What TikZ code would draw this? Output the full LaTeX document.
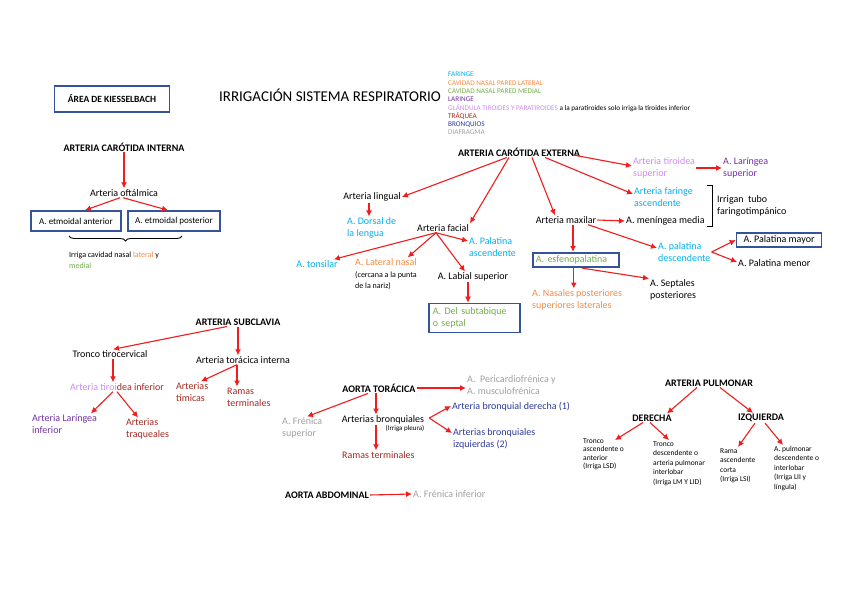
\documentclass[tikz,border=0pt]{standalone}
\usepackage{fontspec}
\setmainfont{Carlito}
\usetikzlibrary{arrows.meta,decorations.pathreplacing}
\definecolor{arrred}{HTML}{F21C1C}
\definecolor{boxblue}{HTML}{34539A}
\definecolor{cyanA}{HTML}{00B0F0}
\definecolor{orangeA}{HTML}{F58A42}
\definecolor{greenA}{HTML}{70AD47}
\definecolor{purpleA}{HTML}{7030A0}
\definecolor{pinkA}{HTML}{D08BF0}
\definecolor{dredA}{HTML}{A3281F}
\definecolor{dblueA}{HTML}{2B3A9A}
\definecolor{grayA}{HTML}{A0A0A0}
\begin{document}
\begin{tikzpicture}[x=1pt,y=-1pt,
    hd/.style={font=\bfseries\fontsize{10}{12}\selectfont},
    sm/.style={font=\fontsize{8}{11}\selectfont},
    pl/.style={font=\fontsize{7.5}{9.5}\selectfont},
    box/.style={draw=boxblue, line width=1.6pt, inner sep=3pt}]
  \useasboundingbox (0,0) rectangle (848,599);
  \begin{scope}[every node/.style={font=\fontsize{10}{12}\selectfont, inner sep=1pt, align=left}]
    % cabecera
    \node[font=\fontsize{15}{18}\selectfont] (tit) at (330,95) {IRRIGACIÓN SISTEMA RESPIRATORIO};
    \node[box, hd, font=\bfseries\fontsize{9.5}{11}\selectfont, minimum width=115pt, minimum height=26pt] (kb) at (112,99) {ÁREA DE KIESSELBACH};
    \node[anchor=north west, font=\fontsize{7.2}{8.3}\selectfont] (ley) at (447,71)
      {{\color{cyanA}FARINGE}\\
       {\color{orangeA}CAVIDAD NASAL PARED LATERAL}\\
       {\color{greenA}CAVIDAD NASAL PARED MEDIAL}\\
       {\color{purpleA}LARINGE}\\
       {\color{pinkA}GLÁNDULA TIROIDES Y PARATIROIDES} a la paratiroides solo irriga la tiroides inferior\\
       {\color{dredA}TRÁQUEA}\\
       {\color{dblueA}BRONQUIOS}\\
       {\color{grayA}DIAFRAGMA}};
    % carotida interna
    \node[hd] (ci) at (124,147) {ARTERIA CARÓTIDA INTERNA};
    \node (oft) at (124,193) {Arteria oftálmica};
    \node[box, font=\fontsize{9}{10}\selectfont, minimum width=90pt, minimum height=20pt] (eta) at (76,221) {A. etmoidal anterior};
    \node[box, font=\fontsize{9}{10}\selectfont, minimum width=92pt, minimum height=20pt] (etp) at (174,221) {A. etmoidal posterior};
    \node[anchor=west, font=\fontsize{8}{11}\selectfont] (irr) at (68,260) {Irriga cavidad nasal {\color{orangeA}lateral} y\\{\color{greenA}medial}};
    % carotida externa
    \node[hd] (ce) at (519,152) {ARTERIA CARÓTIDA EXTERNA};
    \node (ling) at (372,197) {Arteria lingual};
    \node[anchor=west, text=cyanA] (dors) at (346,228) {A. Dorsal de\\la lengua};
    \node (fac) at (443,228) {Arteria facial};
    \node[text=cyanA] (tons) at (317,264) {A. tonsilar};
    \node[anchor=west, text=orangeA] (latn) at (354,262) {A. Lateral nasal};
    \node[anchor=north west, sm] (cerc) at (354,270) {(cercana a la punta\\de la nariz)};
    \node[anchor=west, text=cyanA] (pala) at (468,247) {A. Palatina\\ascendente};
    \node (lab) at (473,277) {A. Labial superior};
    \node[box, anchor=west, text=greenA, text width=83pt, minimum height=29pt, inner sep=4pt] (sept) at (428,318) {A. Del subtabique\\o septal};
    \node[anchor=west, text=pinkA] (tsup) at (632,168) {Arteria tiroidea\\superior};
    \node[anchor=west, text=purpleA] (lsup) at (722,168) {A. Laríngea\\superior};
    \node[anchor=west, text=cyanA] (far) at (633,197) {Arteria faringe\\ascendente};
    \node[anchor=west] (irg) at (716,206) {Irrigan\ \ tubo\\faringotimpánico};
    \node (max) at (566,220) {Arteria maxilar};
    \node[anchor=west] (men) at (625,221) {A. meníngea media};
    \node[anchor=west, text=cyanA] (pald) at (657,252) {A. palatina\\descendente};
    \node[box, minimum width=85pt, minimum height=14pt, inner sep=1.5pt] (pmay) at (779,240) {A. Palatina mayor};
    \node[anchor=west] (pmen) at (737,263) {A. Palatina menor};
    \node[box, anchor=west, text=greenA, text width=80pt, minimum height=14pt, inner sep=3pt] (esf) at (532,260) {A. esfenopalatina};
    \node[anchor=west, text=orangeA] (nas) at (531,300) {A. Nasales posteriores\\superiores laterales};
    \node[anchor=west] (sep) at (649,290) {A. Septales\\posteriores};
    \draw[line width=0.9pt] (707,185) -- (712,185) -- (712,226) -- (707,226);
    % subclavia
    \node[hd] (sub) at (238,322) {ARTERIA SUBCLAVIA};
    \node (tro) at (110,354) {Tronco tirocervical};
    \node (tor) at (243,360) {Arteria torácica interna};
    \node (tinf) at (117,387) {{\color{pinkA}Arteria tiroi}{\color{dredA}dea inferior}};
    \node[anchor=west, text=purpleA] (linf) at (31,424) {Arteria Laríngea\\inferior};
    \node[anchor=west, text=dredA] (traq) at (125,429) {Arterias\\traqueales};
    \node[anchor=west, text=dredA] (tim) at (175,392) {Arterias\\tímicas};
    \node[anchor=west, text=dredA] (rter) at (226,397) {Ramas\\terminales};
    % aorta
    \node[hd] (aot) at (379,388) {AORTA TORÁCICA};
    \node[anchor=west, text=grayA] (peri) at (466,385) {A.\ \ Pericardiofrénica y\\A. musculofrénica};
    \node[anchor=west, text=grayA] (fsup) at (281,428) {A. Frénica\\superior};
    \node (bron) at (383,420) {Arterias bronquiales};
    \node[font=\fontsize{7}{8}\selectfont] (pleu) at (405,429) {(Irriga pleura)};
    \node[anchor=west, text=dblueA] (bder) at (451,407) {Arteria bronquial derecha (1)};
    \node[anchor=west, text=dblueA] (bizq) at (452,439) {Arterias bronquiales\\izquierdas (2)};
    \node[anchor=west, text=dredA] (rter2) at (341,455) {Ramas terminales};
    \node[hd] (aab) at (327,495) {AORTA ABDOMINAL};
    \node[anchor=west, text=grayA] (finf) at (412,494) {A. Frénica inferior};
    % pulmonar
    \node[hd] (pul) at (709,383) {ARTERIA PULMONAR};
    \node[hd] (der) at (652,418) {DERECHA};
    \node[hd] (izq) at (761,418) {IZQUIERDA};
    \node[anchor=north west, font=\fontsize{7.5}{8.5}\selectfont] (t1) at (582,437) {Tronco\\ascendente o\\anterior\\(Irriga LSD)};
    \node[anchor=north west, pl] (t2) at (652,440) {Tronco\\descendente o\\arteria pulmonar\\interlobar\\(Irriga LM Y LID)};
    \node[anchor=north west, pl] (t3) at (719,447) {Rama\\ascendente\\corta\\(Irriga LSI)};
    \node[anchor=north west, pl] (t4) at (773,445) {A. pulmonar\\descendente o\\interlobar\\(Irriga LII y\\língula)};
  \end{scope}
  \draw[decorate, decoration={brace, amplitude=5pt, mirror}, line width=0.9pt] (69,236) -- (182,236);
  \begin{scope}[every edge/.style={draw=arrred, line width=1.1pt, ->, >={Latex[length=6pt,width=6pt]}}]
    \path (ci) edge (oft);
    \path ([xshift=-4pt]oft.south) edge ([xshift=9pt]eta.north);
    \path ([xshift=-1pt]oft.south) edge ([xshift=-6pt]etp.north);
    \path ([xshift=-12pt]ce.south) edge (ling.east);
    \path ([xshift=-10pt]ce.south) edge (fac.north east);
    \path ([xshift=13pt]ce.south) edge ([xshift=-11pt]max.north);
    \path ([xshift=-8pt,yshift=-3pt]ce.east) edge ([yshift=2pt]tsup.west);
    \path ([xshift=26pt]ce.south) edge ([yshift=3pt]far.west);
    \path ([xshift=-3pt]ling.south) edge ([xshift=-3pt]ling.south |- dors.north);
    \path ([xshift=-7pt]fac.south) edge ([xshift=-5pt]tons.north east);
    \path ([xshift=-7pt]fac.south) edge ([xshift=-10pt]latn.north east);
    \path ([xshift=-7pt]fac.south) edge ([yshift=6pt]pala.west);
    \path ([xshift=-7pt]fac.south) edge ([xshift=-8pt]lab.north);
    \path ([xshift=-5pt]lab.south) edge ([xshift=-5pt]lab.south |- sept.north);
    \path (tsup.east) edge (lsup.west);
    \path (max.east) edge (men.west);
    \path ([xshift=7pt]max.south) edge ([xshift=7pt]max.south |- esf.north);
    \path ([xshift=22pt]max.south) edge ([yshift=4pt]pald.west);
    \path (pald.east) edge (pmay.west);
    \path (pald.east) edge ([yshift=1pt]pmen.west);
    \path ([xshift=-2pt]esf.south) edge ([xshift=-2pt]esf.south |- nas.north);
    \path ([xshift=6pt]esf.south) edge (sep.north west);
    \path ([xshift=-11pt]sub.south) edge ([xshift=3pt]tro.north);
    \path (sub.south) edge (sub.south |- tor.north);
    \path ([xshift=3pt]tro.south) edge ([xshift=3pt]tro.south |- tinf.north);
    \path ([xshift=-4pt]tinf.south) edge ([xshift=60pt]linf.north west);
    \path (tinf.south) edge ([xshift=13pt]traq.north west);
    \path ([xshift=-6pt]tor.south) edge ([xshift=26pt]tim.north west);
    \path ([xshift=-6pt]tor.south) edge ([xshift=-6pt]tor.south |- rter.north);
    \path (aot.east) edge (aot.east -| peri.west);
    \path ([xshift=-11pt]aot.south) edge ([xshift=26pt]fsup.north west);
    \path ([xshift=-3pt]aot.south) edge ([xshift=-3pt]aot.south |- bron.north);
    \path ([xshift=4pt,yshift=2pt]bron.east) edge ([yshift=1pt]bder.west);
    \path ([xshift=4pt,yshift=2pt]bron.east) edge ([yshift=6pt]bizq.west);
    \path ([xshift=-7pt]bron.south) edge ([xshift=-7pt]bron.south |- rter2.north);
    \path (aab.east) edge (finf.west);
    \path ([xshift=-12pt]pul.south) edge ([xshift=15pt]der.north);
    \path ([xshift=11pt]pul.south) edge ([xshift=-8pt]izq.north);
    \path ([xshift=-9pt]der.south) edge ([xshift=33pt,yshift=-3pt]t1.north west);
    \path ([xshift=-2pt]der.south) edge ([xshift=17pt]t2.north west);
    \path ([xshift=-6pt]izq.south) edge ([xshift=19pt]t3.north west);
    \path ([xshift=4pt]izq.south) edge ([xshift=10pt]t4.north west);
  \end{scope}
\end{tikzpicture}
\end{document}
